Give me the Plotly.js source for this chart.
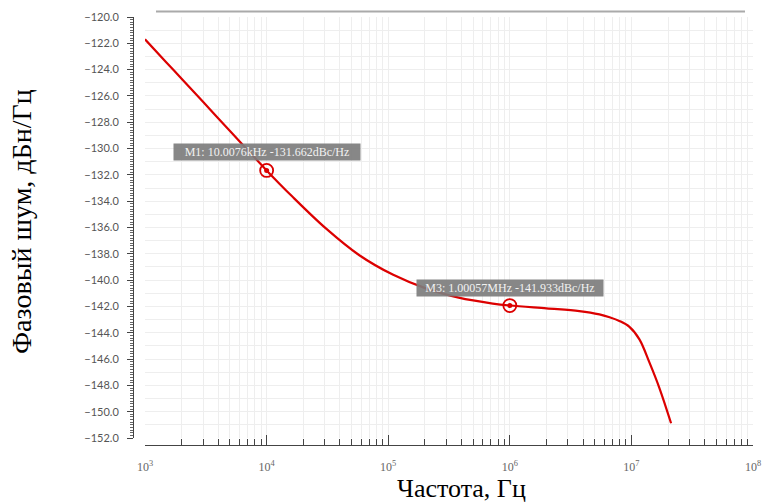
<!DOCTYPE html>
<html>
<head>
<meta charset="utf-8">
<script src="https://cdn.plot.ly/plotly-3.0.1.min.js"></script>
<style>html,body{margin:0;padding:0;background:#fff;}#chart{width:764px;height:504px;}</style>
</head>
<body>
<div id="chart"></div>
<script>
// Frequency (Hz) and phase noise (dBc/Hz)
const freqHz = [1000, 1500, 2000, 3000, 5000, 7000, 10000, 16200, 30900, 57500,
  110000, 204000, 380000, 724000, 1000000, 2000000, 3730000, 5460000, 6610000, 7960000,
  9640000, 11640000, 14060000, 17000000, 21200000];
const phaseNoise = [-121.7, -123.45, -124.7, -126.45, -128.66, -130.12, -131.66, -133.63, -136.09, -138.09,
  -139.6, -140.63, -141.33, -141.78, -141.93, -142.15, -142.35, -142.6, -142.82, -143.1,
  -143.55, -144.5, -146.25, -148.2, -150.88];

const markerFreq = [10007.6, 1000570];
const markerVal = [-131.662, -141.933];
const markerLabels = ["M1: 10.0076kHz -131.662dBc/Hz", "M3: 1.00057MHz -141.933dBc/Hz"];

const decadeVals = [1e3, 1e4, 1e5, 1e6, 1e7, 1e8];
const decadeText = ["10<sup>3</sup>", "10<sup>4</sup>", "10<sup>5</sup>", "10<sup>6</sup>", "10<sup>7</sup>", "10<sup>8</sup>"];
const minorVals = [];
for (let d = 3; d < 8; d++) for (let m = 2; m <= 9; m++) minorVals.push(m * Math.pow(10, d));
const gridVals = decadeVals.concat(minorVals);

const yTitle = "Фазовый шум, дБн/Гц";
const xTitle = "Частота, Гц";

const RED = "#dc0000";
const xDom = [12/620, 1];
const yDom = [7/428, 1];

const traces = [
  {x: freqHz, y: phaseNoise, type: "scatter", mode: "lines", line: {color: RED, width: 2.2, shape: "spline", smoothing: 1}, hoverinfo: "skip"},
  {x: markerFreq, y: markerVal, type: "scatter", mode: "markers",
   marker: {symbol: "circle-open", size: 13, color: RED, line: {color: RED, width: 1.8}}},
  {x: markerFreq, y: markerVal, type: "scatter", mode: "markers",
   marker: {symbol: "circle", size: 5, color: RED}}
];

const annotations = markerLabels.map((t, i) => ({
  x: Math.log10(markerFreq[i]), y: markerVal[i], xref: "x", yref: "y",
  text: t, showarrow: false, yshift: 18,
  font: {family: "Liberation Serif", size: 12, color: "#f2f2f2"},
  bgcolor: "rgba(125,125,125,0.92)", borderpad: 2, width: 182, height: 12
}));
annotations.push({
  text: yTitle, xref: "paper", yref: "paper", x: (21 - 133) / 620, y: (445 - 222) / 428,
  textangle: -90, showarrow: false, xanchor: "center", yanchor: "middle",
  font: {family: "Liberation Serif", size: 28, color: "#000"}
});
annotations.push({
  text: xTitle, xref: "paper", yref: "paper", x: (461 - 133) / 620, y: (445 - 488) / 428,
  showarrow: false, xanchor: "center", yanchor: "middle",
  font: {family: "Liberation Serif", size: 26, color: "#000"}
});

const layout = {
  width: 764, height: 504,
  margin: {l: 133, r: 11, t: 17, b: 59},
  paper_bgcolor: "#fff", plot_bgcolor: "#fff",
  showlegend: false,
  xaxis: {type: "log", range: [3, 8], domain: xDom, anchor: "y",
    tickmode: "array", tickvals: gridVals, showticklabels: false, ticks: "",
    showgrid: true, gridcolor: "#eeeeee", gridwidth: 1, zeroline: false, showline: false},
  yaxis: {range: [-152, -120], domain: yDom, anchor: "x", dtick: 1, tick0: -152,
    showticklabels: false, ticks: "", showgrid: true, gridcolor: "#eeeeee", gridwidth: 1,
    zeroline: false, showline: false},
  xaxis2: {type: "log", range: [3, 8], domain: xDom, overlaying: "x", anchor: "free", position: 0,
    tickmode: "array", tickvals: decadeVals, ticktext: decadeText, ticks: "inside", ticklen: 10,
    tickcolor: "#444", tickwidth: 1, showline: true, linecolor: "#444", linewidth: 1,
    showgrid: false, zeroline: false, ticklabelstandoff: 11,
    tickfont: {family: "Liberation Serif", size: 12, color: "#666"}},
  xaxis3: {type: "log", range: [3, 8], domain: xDom, overlaying: "x", anchor: "free", position: 0,
    tickmode: "array", tickvals: minorVals, showticklabels: false, ticks: "inside", ticklen: 6,
    tickcolor: "#444", tickwidth: 1, showline: false, showgrid: false, zeroline: false},
  yaxis2: {range: [-152, -120], domain: yDom, overlaying: "y", anchor: "free", position: 0,
    dtick: 2, tick0: -152, tickformat: ".1f", ticks: "outside", ticklen: 6, tickcolor: "#444",
    showline: true, linecolor: "#444", linewidth: 1, showgrid: false, zeroline: false,
    minor: {dtick: 0.2, ticks: "outside", ticklen: 3, tickcolor: "#666", showgrid: false},
    tickfont: {family: "Lato", size: 11, color: "#555"}, ticklabelstandoff: 6},
  shapes: [{type: "line", xref: "paper", yref: "paper", x0: (156 - 133) / 620, x1: (745 - 133) / 620,
    y0: (445 - 11.5) / 428, y1: (445 - 11.5) / 428, line: {color: "#aaaaaa", width: 2}}],
  annotations: annotations
};

// invisible traces to activate the overlay axes
traces.push({x: [1e3], y: [-152], xaxis: "x2", yaxis: "y2", mode: "markers", marker: {opacity: 0}, hoverinfo: "skip"});
traces.push({x: [1e3], y: [-152], xaxis: "x3", yaxis: "y2", mode: "markers", marker: {opacity: 0}, hoverinfo: "skip"});

Plotly.newPlot("chart", traces, layout, {staticPlot: true});
</script>
</body>
</html>
